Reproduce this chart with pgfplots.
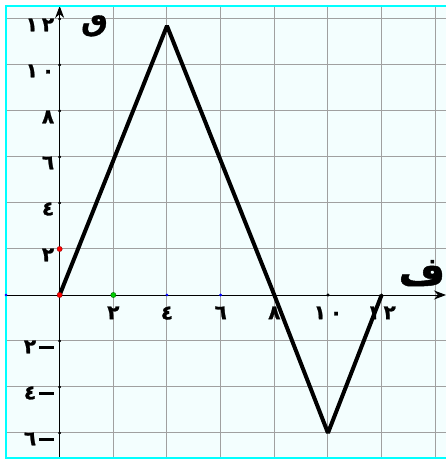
\documentclass[border=0pt]{standalone}
\usepackage{fontspec}
\usepackage{pgfplots}
\pgfplotsset{compat=1.18}
\usetikzlibrary{arrows.meta}
\TeXXeTstate=1
\newfontfamily\arabicfont[Script=Arabic, FakeBold=1.2]{DejaVu Sans Bold}
\definecolor{bg}{HTML}{F3FEFE}
\definecolor{gridc}{HTML}{A0A0A0}
\definecolor{bordc}{HTML}{00FFFF}
\newcommand{\negl}[1]{#1\hspace{3pt}\rule[0.42ex]{0.75em}{0.16em}}
\newcommand{\dd}[2]{#1\hspace{4pt}#2}
\begin{document}
\begin{tikzpicture}
\begin{axis}[
  scale only axis, width=440pt, height=452pt,
  xmin=-2, xmax=14.4, ymin=-7.087, ymax=12.565,
  axis lines=middle,
  axis line style={black, line width=0.9pt},
  x axis line style={-{Stealth[length=12pt,width=9pt]}},
  y axis line style={-{Stealth[length=12pt,width=9pt]}},
  xtick={-2,0,2,4,6,8,10,12,14},
  xticklabels={,,٢,٤,٦,٨,\dd{١}{٠},\dd{١}{٢},},
  ytick={-6,-4,-2,0,2,4,6,8,10,12},
  yticklabels={\negl{٦},\negl{٤},\negl{٢},,٢,٤,٦,٨,\dd{١}{٠},\dd{١}{٢}},
  major tick length=0pt,
  grid=major, grid style={gridc, line width=1pt},
  axis background/.style={fill=bg},
  xticklabel style={font=\arabicfont\fontsize{20}{20}\selectfont, anchor=north, yshift=-8pt},
  yticklabel style={font=\arabicfont\fontsize{20}{20}\selectfont, anchor=east, xshift=-2pt, yshift=-6pt},
  clip=false,
]
\addplot[black, line width=4pt, line join=bevel] coordinates {(0,0) (4,11.7) (8,0) (10,-6) (12,0)};
\addplot[only marks, mark=*, mark size=1.3pt, black] coordinates {(0,-6) (0,-4) (0,-2) (0,4) (0,6) (0,8) (0,10) (0,12) (8,0) (10,0) (12,0)};
\addplot[only marks, mark=*, mark size=1.2pt, blue] coordinates {(4,0) (6,0) (-2,0)};
\addplot[only marks, mark=*, mark size=2.6pt, fill=red, draw=red!60!black] coordinates {(0,0) (0,2)};
\addplot[only marks, mark=*, mark size=2.6pt, fill=green!80!black, draw=green!40!black] coordinates {(2,0)};
\draw[bordc, line width=2pt] (rel axis cs:1,1) -- (rel axis cs:0,1) -- (rel axis cs:0,0) -- (rel axis cs:1,0);
\node[font=\arabicfont\fontsize{30}{30}\selectfont] at (axis cs:1.3,11.7) {\beginR ٯ\endR};
\node[font=\arabicfont\fontsize{40}{40}\selectfont] at (axis cs:13.5,0.95) {\beginR ف\endR};
\coordinate (bl) at ([xshift=-6pt,yshift=-2pt]rel axis cs:0,0);
\coordinate (tr) at ([yshift=6pt]rel axis cs:1,1);
\end{axis}
\pgfresetboundingbox
\path (bl) rectangle (tr);
\end{tikzpicture}
\end{document}
